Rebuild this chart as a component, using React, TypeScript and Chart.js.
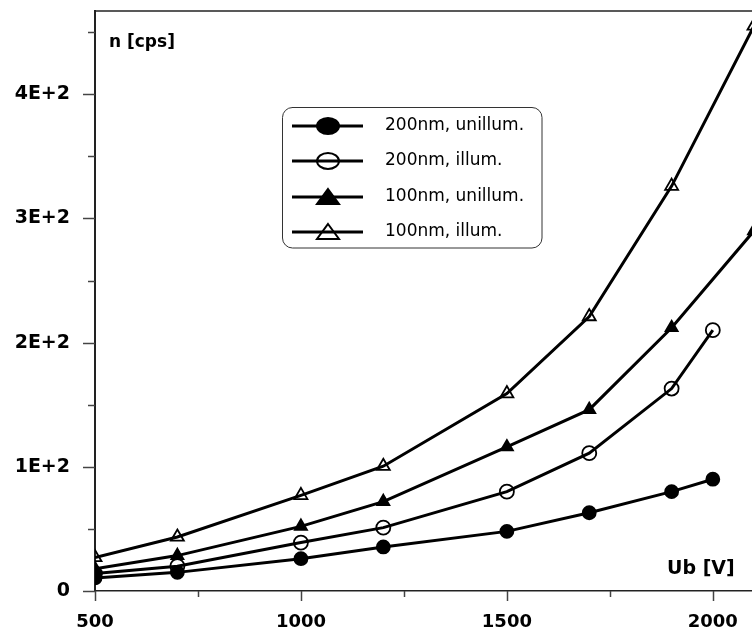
import React, { useEffect, useRef } from "react";
import { Chart, registerables } from "chart.js";

Chart.register(...registerables);

// ---- data ----
const voltages200 = [500, 700, 1000, 1200, 1500, 1700, 1900, 2000];
const voltages100 = [500, 700, 1000, 1200, 1500, 1700, 1900, 2100];
const n200Unillum = [10.5, 15, 26, 35.5, 48, 63, 80, 90];
const n200Illum = [14, 20, 39, 51, 80, 111, 163, 210];
const n100Unillum = [18, 28.5, 52, 72, 116, 146, 212, 290];
const n100Illum = [27, 43.5, 77, 100.5, 159, 221, 326, 455];

const seriesLabels = ["200nm, unillum.", "200nm, illum.", "100nm, unillum.", "100nm, illum."];
const xTickValues = [500, 1000, 1500, 2000];
const xMinorTickValues = [750, 1250, 1750];
const yTickValues = [0, 100, 200, 300, 400];
const yMinorTickValues = [50, 150, 250, 350, 450];
const xTitle = "Ub [V]";
const yTitle = "n [cps]";

const fmtY = (v: number) => (v === 0 ? "0" : `${v / 100}E+2`);

const toPoints = (xs: number[], ys: number[]) => ys.map((y, i) => ({ x: xs[i], y }));

const markers = [
  { style: "circle", fill: "#000", r: 6.5 },
  { style: "circle", fill: "rgba(0,0,0,0)", r: 7 },
  { style: "triangle", fill: "#000", r: 7 },
  { style: "triangle", fill: "rgba(0,0,0,0)", r: 7.5 },
];

const decorPlugin = {
  id: "decor",
  afterDraw(chart: any) {
    const ctx = chart.ctx;
    const xs = chart.scales.x;
    const ys = chart.scales.y;
    const area = chart.chartArea;
    ctx.save();
    ctx.strokeStyle = "#222";
    ctx.lineWidth = 1.5;
    // top border
    ctx.beginPath();
    ctx.moveTo(area.left, area.top);
    ctx.lineTo(chart.width, area.top);
    ctx.stroke();
    // y ticks
    ctx.strokeStyle = "#444";
    ctx.lineWidth = 1.5;
    yTickValues.forEach((v) => {
      const p = Math.round(ys.getPixelForValue(v)) + 0.5;
      ctx.beginPath();
      ctx.moveTo(area.left - 12, p);
      ctx.lineTo(area.left, p);
      ctx.stroke();
    });
    yMinorTickValues.forEach((v) => {
      const p = Math.round(ys.getPixelForValue(v)) + 0.5;
      ctx.beginPath();
      ctx.moveTo(area.left - 7, p);
      ctx.lineTo(area.left, p);
      ctx.stroke();
    });
    xTickValues.forEach((v) => {
      const p = Math.round(xs.getPixelForValue(v)) + 0.5;
      ctx.beginPath();
      ctx.moveTo(p, area.bottom);
      ctx.lineTo(p, area.bottom + 10);
      ctx.stroke();
    });
    xMinorTickValues.forEach((v) => {
      const p = Math.round(xs.getPixelForValue(v)) + 0.5;
      ctx.beginPath();
      ctx.moveTo(p, area.bottom);
      ctx.lineTo(p, area.bottom + 6);
      ctx.stroke();
    });
    // axis titles
    ctx.fillStyle = "#000";
    ctx.font = "bold 17px 'DejaVu Sans'";
    ctx.textBaseline = "middle";
    ctx.textAlign = "left";
    ctx.fillText(yTitle, area.left + 14, area.top + 32);
    ctx.font = "bold 19px 'DejaVu Sans'";
    ctx.fillText(xTitle, 667, area.bottom - 22);

    // legend
    const lx = 282, ly = 107, lw = 260, lh = 141, r = 10;
    ctx.strokeStyle = "#333";
    ctx.lineWidth = 1;
    ctx.beginPath();
    ctx.moveTo(lx + r, ly + 0.5);
    ctx.arcTo(lx + lw, ly + 0.5, lx + lw, ly + lh, r);
    ctx.arcTo(lx + lw, ly + lh, lx, ly + lh, r);
    ctx.arcTo(lx + 0.5, ly + lh, lx + 0.5, ly, r);
    ctx.arcTo(lx + 0.5, ly + 0.5, lx + lw, ly + 0.5, r);
    ctx.closePath();
    ctx.fillStyle = "#fff";
    ctx.fill();
    ctx.stroke();
    const rowsY = [126, 161, 197, 232];
    seriesLabels.forEach((lab, i) => {
      const y = rowsY[i];
      ctx.strokeStyle = "#000";
      ctx.lineWidth = 3;
      ctx.beginPath();
      ctx.moveTo(292, y);
      ctx.lineTo(363, y);
      ctx.stroke();
      const m = markers[i];
      ctx.lineWidth = 2;
      ctx.beginPath();
      if (m.style === "circle") {
        ctx.ellipse(328, y, 11, 8, 0, 0, Math.PI * 2);
      } else {
        ctx.moveTo(328, y - 8);
        ctx.lineTo(339, y + 7);
        ctx.lineTo(317, y + 7);
        ctx.closePath();
      }
      if (m.fill === "#000") {
        ctx.fillStyle = "#000";
        ctx.fill();
      }
      ctx.stroke();
      ctx.fillStyle = "#000";
      ctx.font = "17px 'DejaVu Sans'";
      ctx.textAlign = "left";
      ctx.textBaseline = "middle";
      ctx.fillText(lab, 385, y);
    });
    ctx.restore();
  },
};

export default function App() {
  const ref = useRef<HTMLCanvasElement | null>(null);
  useEffect(() => {
    if (!ref.current) return;
    Chart.defaults.font.family = "'DejaVu Sans'";
    const seriesData = [
      toPoints(voltages200, n200Unillum),
      toPoints(voltages200, n200Illum),
      toPoints(voltages100, n100Unillum),
      toPoints(voltages100, n100Illum),
    ];
    const chart = new Chart(ref.current, {
      type: "line",
      data: {
        datasets: seriesData.map((d, i) => ({
          label: seriesLabels[i],
          data: d,
          borderColor: "#000",
          borderWidth: 3,
          pointStyle: markers[i].style as any,
          pointRadius: markers[i].r,
          pointBackgroundColor: markers[i].fill,
          pointBorderColor: "#000",
          pointBorderWidth: 1.8,
          tension: 0,
          fill: false,
        })),
      },
      options: {
        responsive: false,
        animation: false,
        layout: { padding: { top: 11, right: 16, left: 0, bottom: 0 } },
        plugins: { legend: { display: false }, tooltip: { enabled: false } },
        scales: {
          x: {
            type: "linear",
            min: 500,
            max: 2100,
            afterFit: (s: any) => {
              s.height = 43;
              s.paddingLeft = 0;
              s.paddingRight = 0;
            },
            afterBuildTicks: (s: any) => {
              s.ticks = xTickValues.map((v) => ({ value: v }));
            },
            grid: { display: false, drawTicks: false },
            border: { display: true, color: "#222", width: 1.5 },
            ticks: {
              padding: 21,
              color: "#000",
              font: { size: 18, weight: "bold", family: "'DejaVu Sans'" },
              callback: (v: any) => String(v),
              maxRotation: 0,
            },
          },
          y: {
            type: "linear",
            min: 0,
            max: 467,
            afterFit: (s: any) => {
              s.width = 95;
              s.paddingTop = 0;
              s.paddingBottom = 0;
            },
            afterBuildTicks: (s: any) => {
              s.ticks = yTickValues.map((v) => ({ value: v }));
            },
            grid: { display: false, drawTicks: false },
            border: { display: true, color: "#222", width: 2 },
            ticks: {
              padding: 25,
              color: "#000",
              font: { size: 19, weight: "bold", family: "'DejaVu Sans'" },
              callback: (v: any) => fmtY(Number(v)),
            },
          },
        },
      },
      plugins: [decorPlugin],
    });
    return () => chart.destroy();
  }, []);
  return (
    <div
      style={{
        position: "fixed",
        left: 0,
        top: 0,
        width: 752,
        height: 634,
        overflow: "hidden",
        background: "#fff",
      }}
    >
      <canvas ref={ref} width={770} height={634} style={{ display: "block", width: 770, height: 634 }} />
    </div>
  );
}
